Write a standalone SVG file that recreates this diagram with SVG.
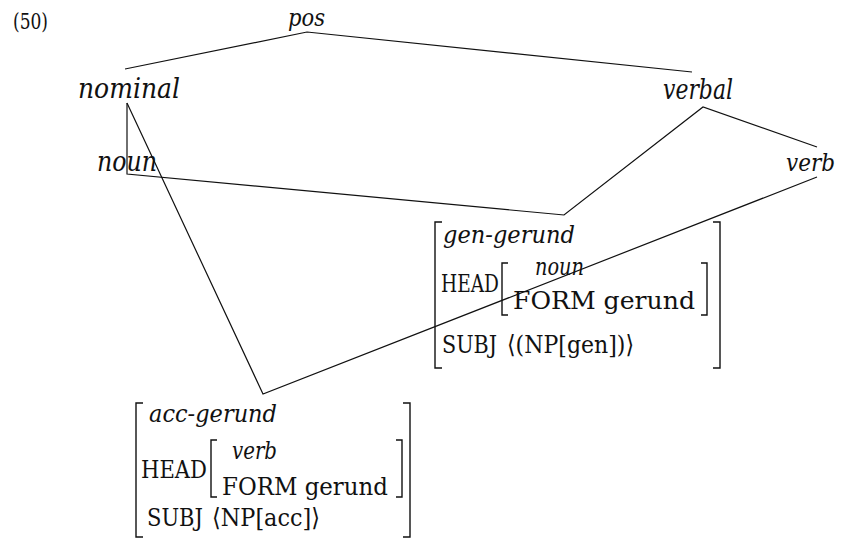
<svg xmlns="http://www.w3.org/2000/svg" width="844" height="542" viewBox="0 0 844 542">
<style>
text{font-family:"DejaVu Serif","Liberation Serif",serif;fill:#111}
.it{font-style:italic}
.lbl{font-size:27px}
.avm{font-size:25px}
.num{font-size:23px}
.ln{fill:none;stroke:#111;stroke-width:1.2}
.br{fill:none;stroke:#111;stroke-width:1.4}
</style>
<rect width="844" height="542" fill="#fff"/>
<text class="num" x="13" y="29" textLength="35" lengthAdjust="spacingAndGlyphs">(50)</text>
<g id="connectors">
<path class="ln" d="M125,69 L307,32 L692,72"/>
<path class="ln" d="M127,103 L127,174 L564,215 L703,107 L817,147"/>
<path class="ln" d="M127,103 L263,394 L817,177"/>
</g>
<g id="pos"><text class="it" x="288" y="26" style="font-size:24px" textLength="37" lengthAdjust="spacingAndGlyphs">pos</text></g>
<g id="nominal"><text class="it lbl" x="78" y="98" textLength="102" lengthAdjust="spacingAndGlyphs">nominal</text></g>
<g id="verbal"><text class="it lbl" x="663" y="99" textLength="70" lengthAdjust="spacingAndGlyphs">verbal</text></g>
<g id="noun"><text class="it lbl" x="97" y="171" textLength="60" lengthAdjust="spacingAndGlyphs">noun</text></g>
<g id="verb"><text class="it" x="786" y="171" style="font-size:25px" textLength="49" lengthAdjust="spacingAndGlyphs">verb</text></g>
<g id="gen-gerund">
<path class="br" d="M442,222 H435 V368 H442"/>
<path class="br" d="M713,222 H720 V368 H713"/>
<path class="br" d="M508,263 H502 V315 H508"/>
<path class="br" d="M701,263 H707 V315 H701"/>
<text class="it avm" x="443" y="243" textLength="132" lengthAdjust="spacingAndGlyphs">gen-gerund</text>
<text class="avm" x="441" y="292" textLength="58" lengthAdjust="spacingAndGlyphs">HEAD</text>
<text class="it avm" x="535" y="275" textLength="49" lengthAdjust="spacingAndGlyphs">noun</text>
<text class="avm" x="513" y="309" textLength="182" lengthAdjust="spacingAndGlyphs">FORM  gerund</text>
<text class="avm" x="442" y="353" textLength="55" lengthAdjust="spacingAndGlyphs">SUBJ</text>
<text class="avm" x="507" y="353" textLength="127" lengthAdjust="spacingAndGlyphs">⟨(NP[gen])⟩</text>
</g>
<g id="acc-gerund">
<path class="br" d="M143,403 H136 V537 H143"/>
<path class="br" d="M403,403 H410 V537 H403"/>
<path class="br" d="M217,440 H211 V497 H217"/>
<path class="br" d="M396,440 H402 V497 H396"/>
<text class="it avm" x="149" y="422" textLength="128" lengthAdjust="spacingAndGlyphs">acc-gerund</text>
<text class="avm" x="141" y="478" textLength="66" lengthAdjust="spacingAndGlyphs">HEAD</text>
<text class="it avm" x="232" y="459" textLength="45" lengthAdjust="spacingAndGlyphs">verb</text>
<text class="avm" x="222" y="495" textLength="166" lengthAdjust="spacingAndGlyphs">FORM  gerund</text>
<text class="avm" x="147" y="526" textLength="56" lengthAdjust="spacingAndGlyphs">SUBJ</text>
<text class="avm" x="212" y="526" textLength="108" lengthAdjust="spacingAndGlyphs">⟨NP[acc]⟩</text>
</g>
</svg>
